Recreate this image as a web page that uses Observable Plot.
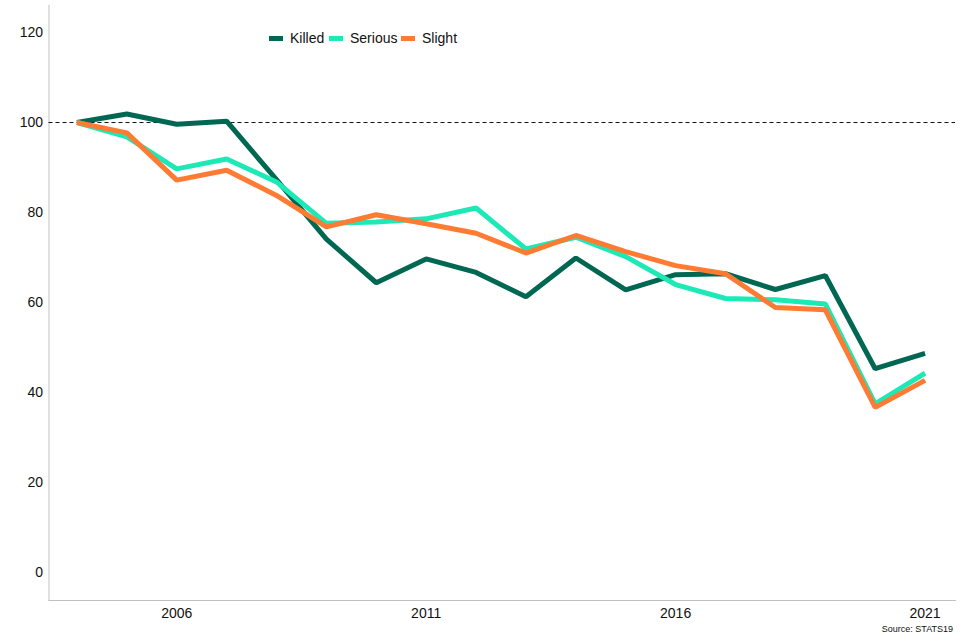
<!DOCTYPE html>
<html>
<head>
<meta charset="utf-8">
<script src="https://cdn.jsdelivr.net/npm/d3@7"></script>
<script src="https://cdn.jsdelivr.net/npm/@observablehq/plot@0.6"></script>
<style>
  html, body { margin: 0; padding: 0; background: #fff; }
  body { font-family: "Liberation Sans", Arial, sans-serif; width: 960px; height: 640px; position: relative; overflow: hidden; }
  #chart { position: absolute; left: 0; top: 0; }
  #legend { position: absolute; top: 30px; left: 0; font-size: 14px; color: #111; }
  .item { position: absolute; display: flex; align-items: center; white-space: nowrap; }
  .sw { width: 14px; height: 5px; margin-right: 7px; }
  #caption { position: absolute; right: 7px; top: 624px; font-size: 9px; color: #111; }
</style>
</head>
<body>
<div id="chart"></div>
<div id="legend"></div>
<div id="caption">Source: STATS19</div>
<script>
const years = [2004,2005,2006,2007,2008,2009,2010,2011,2012,2013,2014,2015,2016,2017,2018,2019,2020,2021];
const killed  = [100,101.9,99.6,100.3,87.3,74.1,64.4,69.7,66.7,61.3,69.9,62.8,66.2,66.4,62.9,66.0,45.3,48.7];
const serious = [100,96.8,89.7,91.9,86.8,77.6,77.9,78.6,81.0,71.9,74.5,70.2,64.0,60.9,60.6,59.7,37.5,44.3];
const slight  = [100,97.7,87.2,89.4,83.8,76.8,79.5,77.5,75.4,71.0,74.9,71.3,68.2,66.4,58.9,58.4,36.7,42.7];
const seriesNames = ["Killed","Serious","Slight"];
const seriesColors = ["#006852","#1de9b6","#ff7a33"];
const yTicks = [0,20,40,60,80,100,120];
const xTicks = [2006,2011,2016,2021];
const baseline = [100];

const data = [];
[killed, serious, slight].forEach((vals, i) => {
  vals.forEach((v, j) => data.push({year: years[j], value: v, series: seriesNames[i]}));
});

const chart = Plot.plot({
  width: 960,
  height: 622,
  marginLeft: 48.5,
  marginRight: 5,
  marginTop: 5,
  marginBottom: 22,
  style: {fontFamily: "'Liberation Sans', Arial, sans-serif", fontSize: "14px", color: "#111", background: "#fff"},
  x: {domain: [2003.44, 2021.61], ticks: xTicks, tickFormat: d => String(d), tickSize: 0, tickPadding: 8, label: null},
  y: {domain: [-6.2, 126], ticks: yTicks, tickSize: 0, tickPadding: 6, label: null},
  color: {domain: seriesNames, range: seriesColors},
  marks: [
    Plot.frame({anchor: "left", stroke: "#c0c0c0"}),
    Plot.frame({anchor: "bottom", stroke: "#c0c0c0"}),
    Plot.ruleY(baseline, {stroke: "#111", strokeDasharray: "4,3", strokeWidth: 1}),
    Plot.line(data, {x: "year", y: "value", z: "series", stroke: "series", strokeWidth: 5, strokeLinejoin: "miter", strokeLinecap: "butt"})
  ]
});
document.getElementById("chart").appendChild(chart);

const legend = document.getElementById("legend");
const lefts = [269, 329, 401];
seriesNames.forEach((n, i) => {
  const it = document.createElement("div");
  it.className = "item";
  it.style.left = lefts[i] + "px";
  it.innerHTML = `<span class="sw" style="background:${seriesColors[i]}"></span><span>${n}</span>`;
  legend.appendChild(it);
});
</script>
</body>
</html>
